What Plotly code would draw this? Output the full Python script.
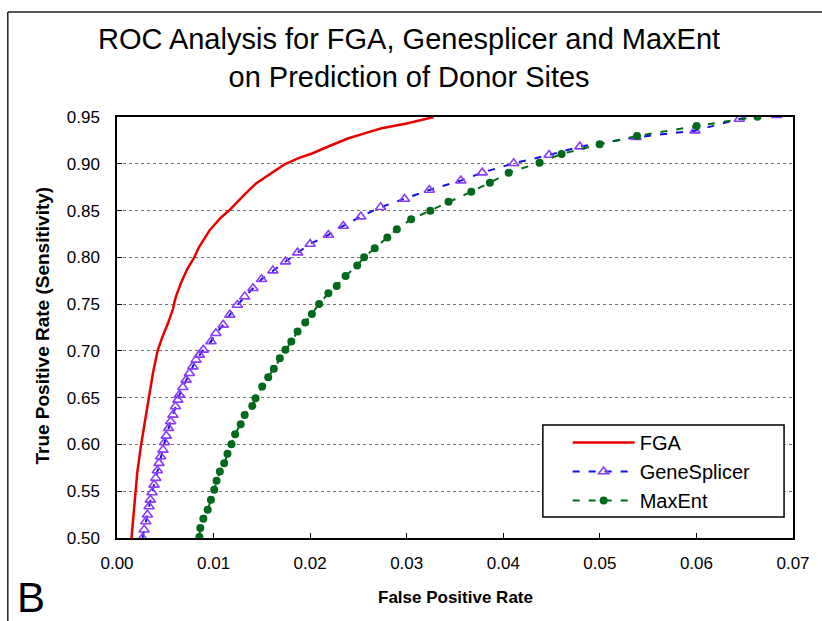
import plotly.graph_objects as go

# ROC curves: false positive rate (x) vs true positive rate (y)
fga_fpr = [0.0015, 0.0017, 0.0019, 0.0021, 0.0025, 0.0029, 0.0033, 0.0037, 0.0042,
           0.0047, 0.0053, 0.0056, 0.0058, 0.0059, 0.0061, 0.0066, 0.0073, 0.0080,
           0.0085, 0.0096, 0.0107, 0.0116, 0.0125, 0.0133, 0.0144, 0.0158, 0.0173,
           0.0188, 0.0202, 0.0220, 0.0239, 0.0258, 0.0274, 0.0300, 0.0328]
fga_tpr = [0.500, 0.525, 0.550, 0.570, 0.600, 0.625, 0.650, 0.675, 0.700,
           0.715, 0.730, 0.738, 0.745, 0.750, 0.758, 0.772, 0.788, 0.800,
           0.811, 0.829, 0.842, 0.850, 0.860, 0.868, 0.879, 0.889, 0.899,
           0.906, 0.911, 0.919, 0.927, 0.933, 0.938, 0.943, 0.950]

gs_fpr = [0.00264, 0.00281, 0.00298, 0.00315, 0.00332, 0.00346, 0.00363, 0.00384,
          0.00401, 0.00418, 0.00435, 0.00452, 0.00476, 0.00493, 0.00510, 0.00534,
          0.00555, 0.00579, 0.00606, 0.00630, 0.00647, 0.00682, 0.00716, 0.00750,
          0.00785, 0.00819, 0.00853, 0.00894, 0.00973, 0.01024, 0.01100, 0.01168,
          0.01247, 0.01322, 0.01408, 0.01497, 0.01614, 0.01744, 0.01870, 0.02000,
          0.02189, 0.02343, 0.02525, 0.02730, 0.02977, 0.03234, 0.03560, 0.03782,
          0.04108, 0.04474, 0.04793, 0.05375, 0.05985, 0.06444, 0.06831]
gs_tpr = [0.5000, 0.5088, 0.5176, 0.5248, 0.5337, 0.5408, 0.5486, 0.5568,
          0.5640, 0.5721, 0.5800, 0.5871, 0.5942, 0.6020, 0.6092, 0.6174,
          0.6245, 0.6316, 0.6405, 0.6476, 0.6530, 0.6612, 0.6690, 0.6761,
          0.6832, 0.6904, 0.6957, 0.7011, 0.7100, 0.7189, 0.7278, 0.7385,
          0.7491, 0.7580, 0.7670, 0.7766, 0.7858, 0.7954, 0.8050, 0.8143,
          0.8239, 0.8335, 0.8435, 0.8535, 0.8624, 0.8720, 0.8820, 0.8905,
          0.9005, 0.9094, 0.9183, 0.9283, 0.9354, 0.9479, 0.9520]

me_fpr = [0.00853, 0.00863, 0.00894, 0.00939, 0.00973, 0.01007, 0.01031, 0.01065,
          0.01110, 0.01144, 0.01185, 0.01223, 0.01281, 0.01322, 0.01401, 0.01435,
          0.01504, 0.01566, 0.01624, 0.01686, 0.01744, 0.01805, 0.01870, 0.01949,
          0.02018, 0.02093, 0.02189, 0.02275, 0.02367, 0.02487, 0.02559, 0.02669,
          0.02799, 0.02898, 0.03046, 0.03244, 0.03433, 0.03669, 0.03861, 0.04056,
          0.04375, 0.04604, 0.04998, 0.05385, 0.06002, 0.06632]
me_tpr = [0.5010, 0.5106, 0.5205, 0.5301, 0.5408, 0.5515, 0.5611, 0.5710,
          0.5800, 0.5900, 0.6003, 0.6110, 0.6217, 0.6316, 0.6412, 0.6494,
          0.6619, 0.6719, 0.6808, 0.6922, 0.7011, 0.7100, 0.7206, 0.7303,
          0.7395, 0.7502, 0.7616, 0.7694, 0.7801, 0.7912, 0.8001, 0.8097,
          0.8211, 0.8300, 0.8407, 0.8499, 0.8595, 0.8702, 0.8798, 0.8905,
          0.9012, 0.9105, 0.9208, 0.9297, 0.9404, 0.9504]

x_ticks = [0.00, 0.01, 0.02, 0.03, 0.04, 0.05, 0.06, 0.07]
y_ticks = [0.50, 0.55, 0.60, 0.65, 0.70, 0.75, 0.80, 0.85, 0.90, 0.95]

FONT = "Arial, 'Liberation Sans', sans-serif"

fig = go.Figure()
fig.add_trace(go.Scatter(
    x=fga_fpr, y=fga_tpr, name="FGA", mode="lines",
    line=dict(color="#E80000", width=2.5),
))
fig.add_trace(go.Scatter(
    x=gs_fpr, y=gs_tpr, name="GeneSplicer", mode="lines+markers",
    line=dict(color="#1010E8", width=2, dash="7px,9px"),
    marker=dict(symbol="triangle-up-open", size=9, color="#8A3CFF",
                line=dict(width=1.6, color="#8A3CFF")),
))
fig.add_trace(go.Scatter(
    x=me_fpr, y=me_tpr, name="MaxEnt", mode="lines+markers",
    line=dict(color="#006A1A", width=2, dash="7px,9px"),
    marker=dict(symbol="circle", size=8, color="#006A1A"),
))

# plot area spans x 117..798 px and y 117..538 px
L, R, T, B = 117, 24, 117, 83
W, H = 822, 621
pw, ph = W - L - R, H - T - B


def px(x):
    return (x - L) / pw


def py(y):
    return (H - B - y) / ph


fig.update_layout(
    width=W, height=H,
    margin=dict(l=L, r=R, t=T, b=B),
    paper_bgcolor="white", plot_bgcolor="white",
    font=dict(family=FONT, color="black"),
    showlegend=True,
    legend=dict(
        x=px(571), y=py(423), xanchor="left", yanchor="top",
        bgcolor="rgba(0,0,0,0)", borderwidth=0,
        font=dict(family=FONT, size=20, color="black"),
        itemwidth=62,
    ),
    xaxis=dict(
        range=[0, 0.07], tickvals=x_ticks, tickformat=".2f",
        showgrid=False, zeroline=False,
        showline=True, linecolor="black", linewidth=1.5, mirror=True,
        ticks="inside", ticklen=5, tickcolor="black",
        tickfont=dict(family=FONT, size=17, color="black"),
        ticklabelstandoff=9,
    ),
    yaxis=dict(
        range=[0.5, 0.95], tickvals=y_ticks, tickformat=".2f",
        showgrid=True, gridcolor="#707070", gridwidth=1, griddash="3px,3px",
        zeroline=False,
        showline=True, linecolor="black", linewidth=1.5, mirror=True,
        ticks="inside", ticklen=5, tickcolor="black",
        tickfont=dict(family=FONT, size=17, color="black"),
        ticklabelstandoff=12,
    ),
)

# legend box
fig.add_shape(type="rect", xref="paper", yref="paper",
              x0=px(546), x1=px(789), y0=py(517), y1=py(425),
              fillcolor="white", line=dict(color="black", width=1.5),
              layer="above")

# outer frame (top and left edges)
fig.add_shape(type="line", xref="paper", yref="paper",
              x0=px(7), x1=px(830), y0=py(12), y1=py(12),
              line=dict(color="#222222", width=1.5))
fig.add_shape(type="line", xref="paper", yref="paper",
              x0=px(7), x1=px(7), y0=py(12), y1=py(630),
              line=dict(color="#222222", width=1.5))

fig.add_annotation(
    text="ROC Analysis for FGA, Genesplicer and MaxEnt<br>on Prediction of Donor Sites",
    xref="paper", yref="paper", x=px(411), y=py(58),
    xanchor="center", yanchor="middle", showarrow=False,
    font=dict(family=FONT, size=29, color="black"),
)
fig.add_annotation(
    text="<b>False Positive Rate</b>", xref="paper", yref="paper",
    x=px(458), y=py(597), xanchor="center", yanchor="middle", showarrow=False,
    font=dict(family=FONT, size=17, color="black"),
)
fig.add_annotation(
    text="<b>True Positive Rate (Sensitivity)</b>", xref="paper", yref="paper",
    x=px(41), y=py(326), xanchor="center", yanchor="middle", showarrow=False,
    textangle=-90, font=dict(family=FONT, size=19, color="black"),
)
fig.add_annotation(
    text="B", xref="paper", yref="paper",
    x=px(30), y=py(597), xanchor="center", yanchor="middle", showarrow=False,
    height=40, valign="middle",
    font=dict(family=FONT, size=42, color="black"),
)

fig.write_html("out.html")
